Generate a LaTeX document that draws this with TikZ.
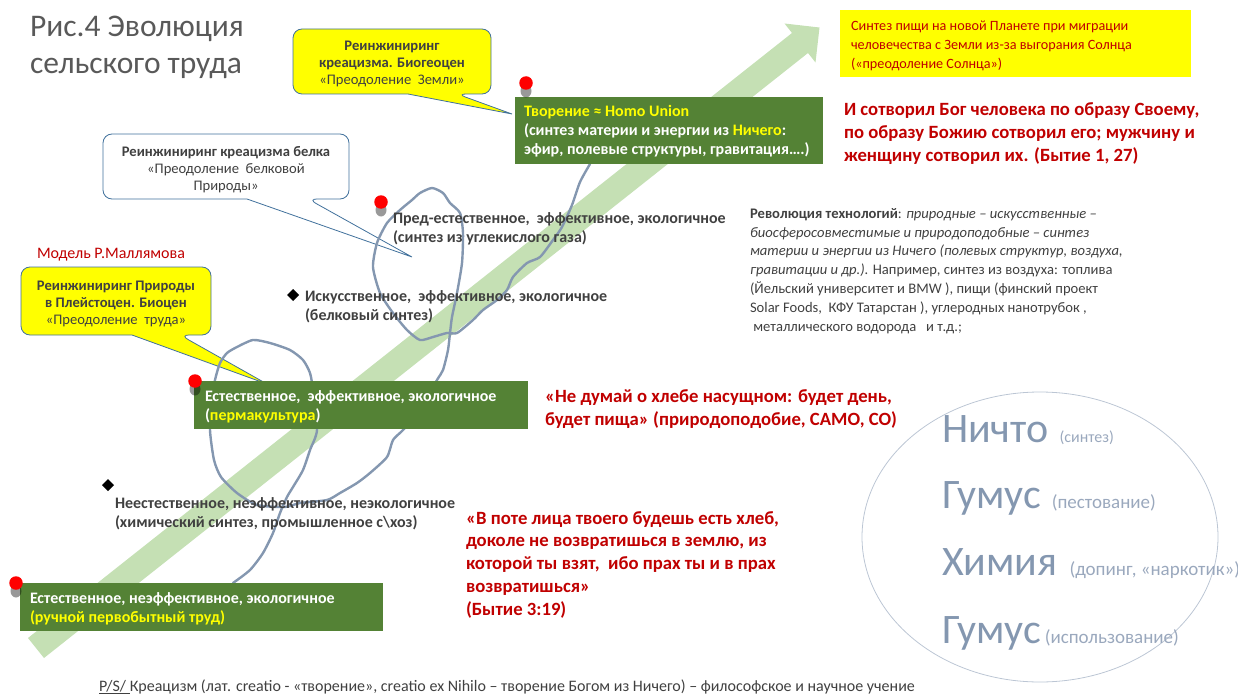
\documentclass[tikz,border=0pt]{standalone}
\usepackage{fontspec}
\setmainfont{Carlito}
\usetikzlibrary{positioning, calc, shapes.geometric, backgrounds}

\definecolor{txtgray}{HTML}{404040}
\definecolor{titlegray}{HTML}{595959}
\definecolor{boxgreen}{HTML}{548235}
\definecolor{bandgreen}{HTML}{C5E0B4}
\definecolor{loopblue}{HTML}{8497B0}
\definecolor{darkred}{HTML}{C00000}
\definecolor{calloutline}{HTML}{41719C}
\definecolor{ovalline}{HTML}{BCC6D4}
\definecolor{ovalword}{HTML}{8497B0}
\definecolor{ovalnote}{HTML}{9AA8BD}
\definecolor{hiyellow}{HTML}{FFFF00}

\newcommand\fsz[2]{\fontsize{#1}{#2}\selectfont}

\begin{document}
\begin{tikzpicture}[x=1pt, y=-1pt,
  every node/.style={inner sep=0pt, outer sep=0pt, text=txtgray},
  greenbox/.style={fill=boxgreen, anchor=north west},
  greentext/.style={text=white, anchor=base west, align=left, font=\bfseries\fsz{16}{19}},
  callout/.style={draw=calloutline, line width=0.8pt, rounded corners=9pt, fill=hiyellow},
  calltext/.style={align=center, font=\fsz{14.6}{17}},
  redquote/.style={text=darkred, font=\bfseries\fsz{18.7}{23}, align=left, anchor=base west},
  stagetext/.style={font=\bfseries\fsz{16}{19}, align=left, anchor=base west},
  reddot/.style={circle, fill=red, minimum size=13.5pt},
  dotshadow/.style={ellipse, fill=black, opacity=0.4, minimum width=11pt, minimum height=13pt},
  blackmark/.style={diamond, fill=black, minimum size=12pt},
  loopline/.style={draw=loopblue, line width=2.4pt, line join=round, line cap=round},
  bigword/.style={text=ovalword, font=\fsz{42}{42}, anchor=base west},
  smallword/.style={text=ovalnote, font=\fsz{19}{19}}
]
\useasboundingbox (0,0) rectangle (1238,695);

% green arrow of evolution
\begin{scope}[on background layer]
\fill[bandgreen] (28,638) -- (792,33) -- (784.5,23.5) -- (819.5,27.5)
  -- (815.5,62.5) -- (808,53) -- (44,658) -- cycle;
\end{scope}

% title
\node[anchor=base west, text=titlegray, font=\fsz{31.5}{37}, align=left] (title) at (30,74)
  {Рис.4 Эволюция\\сельского труда};

% callouts
\node[minimum width=198pt, minimum height=65pt] (callEarth) at (392,61.5) {};
\node[minimum width=246pt, minimum height=65pt] (callProtein) at (226,166.5) {};
\node[minimum width=190pt, minimum height=68pt] (callNature) at (116,301) {};
\coordinate (tipEarth) at (512,114);
\coordinate (tipProtein) at (412,257);
\coordinate (tipNature) at (267,384);
\begin{scope}[on background layer]
\draw[callout] (callEarth.north west) -- (callEarth.north east) -- (callEarth.south east)
  -- ($(callEarth.south west)+(164,0)$) [sharp corners] -- (tipEarth)
  -- ($(callEarth.south west)+(115,0)$) [rounded corners=9pt] -- (callEarth.south west) -- cycle;
\draw[callout, fill=white] (callProtein.north west) -- (callProtein.north east) -- (callProtein.south east)
  -- ($(callProtein.south west)+(205,0)$) [sharp corners] -- (tipProtein)
  -- ($(callProtein.south west)+(144,0)$) [rounded corners=9pt] -- (callProtein.south west) -- cycle;
\draw[callout] (callNature.north west) -- (callNature.north east) -- (callNature.south east)
  -- ($(callNature.south west)+(159,0)$) [sharp corners] -- (tipNature)
  -- ($(callNature.south west)+(111,0)$) [rounded corners=9pt] -- (callNature.south west) -- cycle;
\end{scope}
\node[calltext] (textEarth) at ($(callEarth)+(0,2.5)$)
  {\textbf{Реинжиниринг}\\\textbf{креацизма. Биогеоцен}\\«Преодоление\ \ Земли»};
\node[calltext] (textProtein) at ($(callProtein)+(0,3)$)
  {\textbf{Реинжиниринг креацизма белка}\\«Преодоление\ \ белковой\\Природы»};
\node[calltext] (textNature) at ($(callNature)+(0,3)$)
  {\textbf{Реинжиниринг Природы}\\\textbf{в Плейстоцен. Биоцен}\\«Преодоление\ \ труда»};

% hand drawn loops
\draw[loopline] plot[smooth, tension=0.4] coordinates {(590,164) (580,182) (572,205)
  (562,227) (553,240) (540,257) (527,263) (513,277) (507,290) (497,300) (483,310)
  (473,320) (457,333) (447,333) (433,337) (420,340) (407,330) (393,313) (380,293)
  (373,267) (377,243) (387,223) (400,210) (412,200) (420,193) (432,188) (443,193)
  (450,203) (460,213) (463,233) (462,263) (457,293) (452,317) (450,333) (448,350)
  (443,370) (437,380) (420,410) (403,430) (393,440) (387,457) (370,473) (357,483)
  (340,493) (327,500) (300,503) (285,507) (257,505) (237,493) (221,477) (214,460)
  (210,430) (212,400) (215,380) (220,363) (227,353) (237,347) (253,340) (270,343)
  (290,350) (303,360) (310,373) (313,390) (317,430) (310,450) (303,470) (293,487)
  (287,497) (280,513) (273,533) (263,553) (250,570) (233,583)};

% stages
\node[greenbox, minimum width=308pt, minimum height=67pt] (boxCreation) at (515,97) {};
\node[greenbox, minimum width=334pt, minimum height=48pt] (boxPerma) at (194,381) {};
\node[greenbox, minimum width=363pt, minimum height=48pt] (boxManual) at (20,583) {};
\node[greentext] (textCreation) at (524,155)
  {{\color{hiyellow}Творение ≈ Homo Union}\\(синтез материи и энергии из {\color{hiyellow}Ничего}:\\эфир, полевые структуры, гравитация….)};
\node[greentext] (textPerma) at (205,420)
  {Естественное,\ \ эффективное, экологичное\\({\color{hiyellow}пермакультура})};
\node[greentext] (textManual) at (30,622)
  {Естественное, неэффективное, экологичное\\{\color{hiyellow}(ручной первобытный труд)}};

\node[stagetext] (textPre) at (393,242)
  {Пред-естественное,\ \ эффективное, экологичное\\(синтез из углекислого газа)};
\node[stagetext] (textArt) at (305,320)
  {Искусственное,\ \ эффективное, экологичное\\(белковый синтез)};
\node[stagetext] (textChem) at (115,527)
  {Неестественное, неэффективное, неэкологичное\\(химический синтез, промышленное с\textbackslash хоз)};

\node[blackmark] (markArt) at (293,295) {};
\node[blackmark] (markChem) at (108,485) {};

\node[dotshadow] (shadowCreation) at (526,91) {};
\node[dotshadow] (shadowPre) at (381,210) {};
\node[dotshadow] (shadowPerma) at (195,389) {};
\node[dotshadow] (shadowManual) at (16,591) {};
\node[reddot] (dotCreation) at (526,83) {};
\node[reddot] (dotPre) at (381,202) {};
\node[reddot] (dotPerma) at (195,381) {};
\node[reddot] (dotManual) at (16,583) {};

\node[anchor=base west, text=darkred, font=\fsz{16}{19}] (model) at (37,258) {Модель Р.Маллямова};

% right side
\node[fill=hiyellow, anchor=north west, minimum width=351pt, minimum height=67pt] (boxMigration) at (840,10) {};
\node[anchor=base west, align=left, text=darkred, font=\fsz{14.2}{19}] (textMigration) at (851,69)
  {Синтез пищи на новой Планете при миграции\\человечества с Земли из-за выгорания Солнца\\(«преодоление Солнца»)};

\node[redquote] (quoteImage) at (844,162)
  {И сотворил Бог человека по образу Своему,\\по образу Божию сотворил его; мужчину и\\женщину сотворил их. (Бытие 1, 27)};
\node[redquote] (quoteBread) at (545,425)
  {«Не думай о хлебе насущном: будет день,\\будет пища» (природоподобие, САМО, СО)};
\node[redquote, font=\bfseries\fsz{18.7}{22.75}] (quoteSweat) at (466,615)
  {«В поте лица твоего будешь есть хлеб,\\доколе не возвратишься в землю, из\\которой ты взят,\ \ ибо прах ты и в прах\\возвратишься»\\(Бытие 3:19)};

\node[anchor=base west, align=left, font=\fsz{14.6}{18.8}] (revolution) at (750,331)
  {\textbf{Революция технологий}: \textit{природные – искусственные –}\\
  \textit{биосферосовместимые и природоподобные – синтез}\\
  \textit{материи и энергии из Ничего (полевых структур, воздуха,}\\
  \textit{гравитации и др.).} Например, синтез из воздуха: топлива\\
  (Йельский университет и BMW ), пищи (финский проект\\
  Solar Foods,\ \ КФУ Татарстан ), углеродных нанотрубок ,\\
  \ металлического водорода\ \ \ и т.д.;};

% oval
\node[draw=ovalline, line width=0.8pt, ellipse, minimum width=356pt, minimum height=290pt] (oval) at (1040,537) {};
\node[bigword] (wordNothing) at (942,442) {Ничто};
\node[smallword, font=\fsz{16}{16}, base right=11pt of wordNothing] (noteNothing) {(синтез)};
\node[bigword] (wordHumusA) at (942,508) {Гумус};
\node[smallword, base right=11pt of wordHumusA] (noteHumusA) {(пестование)};
\node[bigword] (wordChem) at (942,575) {Химия};
\node[smallword, base right=12pt of wordChem] (noteChem) {(допинг, «наркотик»)};
\node[bigword] (wordHumusB) at (942,643) {Гумус};
\node[smallword, base right=4pt of wordHumusB] (noteHumusB) {(использование)};

\node[anchor=base west, font=\fsz{16}{19}] (footnote) at (99,691)
  {\underline{P/S/\ }Креацизм (лат. creatio - «творение», creatio ex Nihilo – творение Богом из Ничего) – философское и научное учение};
\end{tikzpicture}
\end{document}
